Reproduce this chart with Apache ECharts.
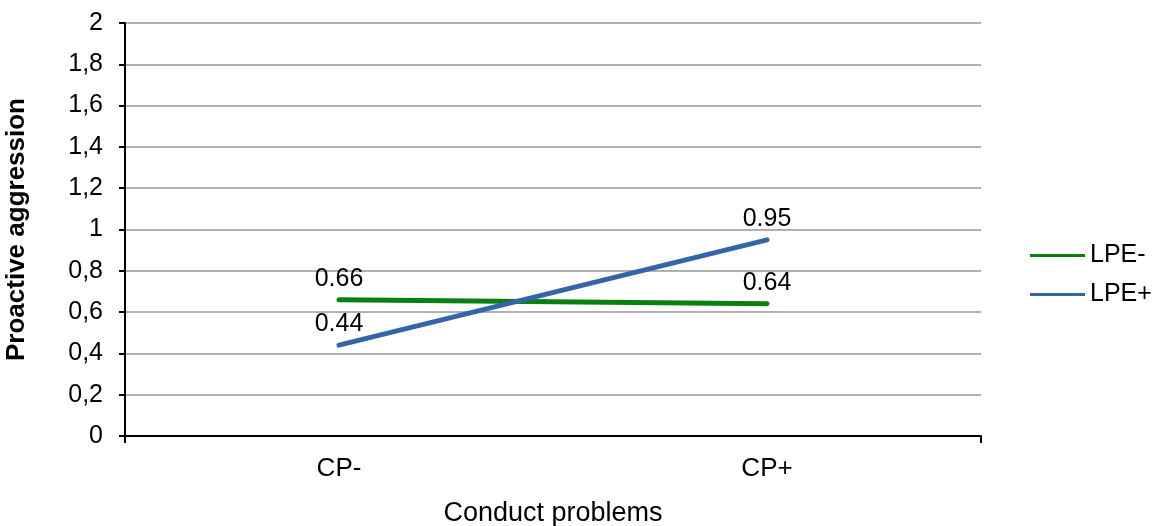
<!DOCTYPE html>
<html>
<head>
<meta charset="utf-8">
<script src="https://cdn.jsdelivr.net/npm/echarts@6/dist/echarts.min.js"></script>
<style>
html,body{margin:0;padding:0;background:#fff;}
#chart{width:1157px;height:526px;}
</style>
</head>
<body>
<div id="chart"></div>
<script>
const categories = ['CP-', 'CP+'];
const seriesNames = ['LPE-', 'LPE+'];
const lpeMinus = [0.66, 0.64];
const lpePlus = [0.44, 0.95];
const yTicks = [0, 0.2, 0.4, 0.6, 0.8, 1, 1.2, 1.4, 1.6, 1.8, 2];

const FONT = '"Liberation Sans", Arial, sans-serif';
const chart = echarts.init(document.getElementById('chart'));
const labelCfg = {
  show: true, position: 'top', distance: 8,
  fontFamily: FONT, fontSize: 25, color: '#000',
  formatter: p => Number(p.value).toFixed(2)
};
chart.setOption({
  animation: false,
  textStyle: {fontFamily: FONT},
  grid: {left: 125, right: 176, top: 23, bottom: 90, containLabel: false, outerBoundsMode: 'none'},
  legend: {
    orient: 'vertical', left: 1025, top: 238,
    itemWidth: 55, itemHeight: 3, itemGap: 14, icon: 'rect',
    textStyle: {fontFamily: FONT, fontSize: 25, color: '#000'},
    data: seriesNames
  },
  xAxis: {
    type: 'category', data: categories, boundaryGap: true,
    name: 'Conduct problems', nameLocation: 'middle', nameGap: 64,
    nameTextStyle: {fontFamily: FONT, fontSize: 27, color: '#000'},
    axisLine: {lineStyle: {color: '#000', width: 2}},
    axisTick: {show: true, length: 7, lineStyle: {color: '#000', width: 2}, interval: (i) => i !== 1},
    axisLabel: {fontFamily: FONT, fontSize: 26, color: '#000', margin: 20},
    splitLine: {show: false}
  },
  yAxis: {
    type: 'value', min: yTicks[0], max: yTicks[yTicks.length-1], interval: 0.2,
    name: 'Proactive aggression', nameLocation: 'middle', nameGap: 95, nameRotate: 90,
    nameTextStyle: {fontFamily: FONT, fontSize: 26, fontWeight: 'bold', color: '#000'},
    axisLine: {show: true, lineStyle: {color: '#000', width: 2}},
    axisTick: {show: true, length: 6, lineStyle: {color: '#000', width: 2}},
    axisLabel: {fontFamily: FONT, fontSize: 25, color: '#000', margin: 22,
      formatter: v => String(Math.round(v*10)/10).replace('.', ',')},
    splitLine: {show: true, lineStyle: {color: '#b0b0b0', width: 2}}
  },
  series: [
    {name: seriesNames[0], type: 'line', data: lpeMinus, symbol: 'circle', symbolSize: 1, showSymbol: true,
     color: '#0a800f', itemStyle: {color: '#0a800f'},
     lineStyle: {width: 5, cap: 'round', color: '#0a800f'}, label: labelCfg},
    {name: seriesNames[1], type: 'line', data: lpePlus, symbol: 'circle', symbolSize: 1, showSymbol: true,
     color: '#3465a9', itemStyle: {color: '#3465a9'},
     lineStyle: {width: 5, cap: 'round', color: '#3465a9'}, label: labelCfg}
  ]
});
</script>
</body>
</html>
